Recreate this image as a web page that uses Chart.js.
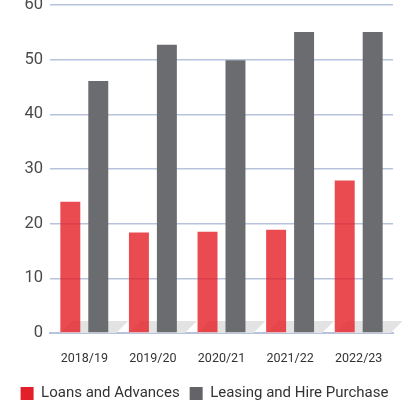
<!DOCTYPE html>
<html>
<head>
<meta charset="utf-8">
<script src="https://cdn.jsdelivr.net/npm/chart.js@4"></script>
<style>
html,body{margin:0;padding:0;background:#fff;overflow:hidden;}
#wrap{position:relative;width:409px;height:425px;margin-top:-12px;}
</style>
</head>
<body>
<div id="wrap"><canvas id="myChart" width="409" height="425"></canvas></div>
<script>
// data
var years = ["2018/19", "2019/20", "2020/21", "2021/22", "2022/23"];
var loans = [24, 18.4, 18.5, 18.9, 27.9];
var leasing = [46.1, 52.7, 49.9, 55.05, 55.05];
var yTicks = [0, 10, 20, 30, 40, 50, 60];

var LOANS_Name = "Loans and Advances";
var LEASING_Name = "Leasing and Hire Purchase";

// light 3d floor under every bar
var floorPlugin = {
    id: "floor",
    beforeDatasetsDraw: function(chart){
        var ctx = chart.ctx;
        var base = chart.scales.y.getPixelForValue(0);
        ctx.save();
        ctx.fillStyle = "#e3e3e3";
        chart.data.datasets.forEach(function(ds, d){
            chart.getDatasetMeta(d).data.forEach(function(bar){
                var x0 = bar.x - bar.width/2;
                var x1 = bar.x + bar.width/2;
                ctx.beginPath();
                ctx.moveTo(x0, base);
                ctx.lineTo(x1 + 8, base);
                ctx.lineTo(x1 + 20, base - 12);
                ctx.lineTo(x0 + 12, base - 12);
                ctx.closePath();
                ctx.fill();
            });
        });
        ctx.restore();
    }
};

new Chart("myChart", {
    type: "bar",
    data: {
        labels: years,
        datasets: [
        {
            label: LOANS_Name,
            data: loans,
            backgroundColor: "rgba(227,30,38,0.8)",
            categoryPercentage: 0.815,
            barPercentage: 0.714
        },
        {
            label: LEASING_Name,
            data: leasing,
            backgroundColor: "#6b6c70",
            categoryPercentage: 0.815,
            barPercentage: 0.714
        }]
    },
    options: {
        responsive: false,
        animation: false,
        layout: {padding: {left: 0, right: 0, top: 0, bottom: 2}},
        plugins: {
            tooltip: {enabled: false},
            legend: {
                position: "bottom",
                labels: {
                    boxWidth: 13,
                    boxHeight: 13,
                    padding: 10,
                    color: "#333",
                    font: {family: "Roboto", size: 15},
                    generateLabels: function(chart){
                        var cols = ["#e3202a", "#646468"];
                        return chart.data.datasets.map(function(ds, i){
                            return {text: ds.label, fillStyle: cols[i], strokeStyle: cols[i], lineWidth: 0, datasetIndex: i, fontColor: "#333"};
                        });
                    }
                }
            }
        },
        scales: {
            x: {
                grid: {display: false},
                border: {display: true, color: "#b7c3dc", width: 2},
                ticks: {color: "#333", padding: 10, font: {family: "Roboto", size: 12.5}}
            },
            y: {
                min: 0,
                max: 60,
                afterBuildTicks: function(scale){
                    scale.ticks = yTicks.map(function(v){return {value: v};});
                },
                afterFit: function(scale){scale.width = 50;},
                grid: {color: "#b7c3dc", lineWidth: 1.5, drawTicks: false},
                border: {display: false},
                ticks: {color: "#4a4a4a", padding: 7, font: {family: "Roboto", size: 16.5}}
            },
            // empty right gutter so the legend can use the full width
            gutter: {
                position: "right",
                min: 0,
                max: 60,
                afterFit: function(scale){scale.width = 16;},
                grid: {display: false},
                border: {display: false},
                ticks: {display: false}
            }
        }
    },
    plugins: [floorPlugin]
});
</script>
</body>
</html>
